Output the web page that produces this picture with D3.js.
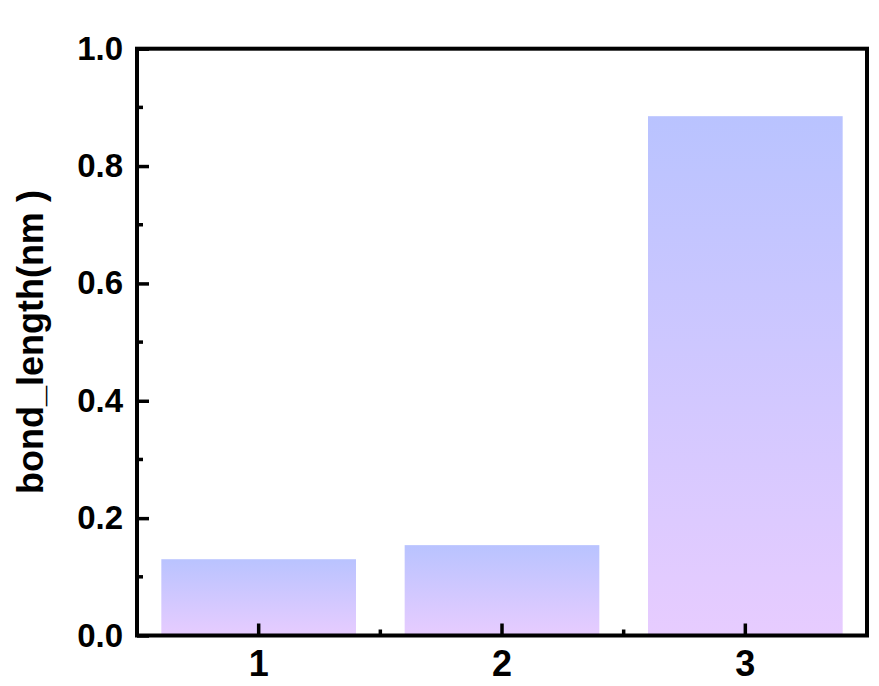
<!DOCTYPE html>
<html><head><meta charset="utf-8">
<script src="https://cdn.jsdelivr.net/npm/d3@7"></script>
<style>body{margin:0;background:#fff}svg{display:block}</style>
</head><body>
<svg id="chart" width="879" height="686"></svg>
<script>
const categories = ["1", "2", "3"];
const bondLength = [0.130, 0.154, 0.885];
const yTicks = [0, 0.2, 0.4, 0.6, 0.8, 1.0];
const yMinorTicks = [0.1, 0.3, 0.5, 0.7, 0.9];
const yLabel = "bond_length(nm )";

(function () {
const svg = d3.select("#chart");
const pLeft = 137, pRight = 867, pTop = 48.7, pBottom = 635.5;
const font = "'Liberation Sans', Arial, sans-serif";

const x = d3.scaleBand().domain(categories).range([pLeft, pRight]).paddingInner(0.2).paddingOuter(0.1);
const y = d3.scaleLinear().domain([0, 1]).range([pBottom, pTop]);

const defs = svg.append("defs");
const grad = defs.append("linearGradient").attr("id", "barGrad")
  .attr("x1", 0).attr("y1", 0).attr("x2", 0).attr("y2", 1);
grad.append("stop").attr("offset", "0%").attr("stop-color", "#b9c3ff");
grad.append("stop").attr("offset", "100%").attr("stop-color", "#e7ccff");

svg.selectAll("rect.bar").data(categories).join("rect").attr("class", "bar")
  .attr("x", d => x(d))
  .attr("width", x.bandwidth())
  .attr("y", (d, i) => y(bondLength[i]))
  .attr("height", (d, i) => y(0) - y(bondLength[i]))
  .attr("fill", "url(#barGrad)");

// Y axis
const yAxis = d3.axisLeft(y).tickValues(yTicks).tickFormat(d3.format(".1f")).tickSize(-12).tickPadding(14);
const gy = svg.append("g").attr("transform", `translate(${pLeft},0)`).call(yAxis);
gy.select(".domain").remove();
gy.selectAll(".tick line").attr("stroke", "#000").attr("stroke-width", 3.5);
gy.selectAll(".tick text").attr("font-family", font).attr("font-weight", "bold").attr("font-size", 33).attr("fill", "#000");

// Y minor ticks
svg.append("g").selectAll("line").data(yMinorTicks).join("line")
  .attr("x1", pLeft).attr("x2", pLeft + 6)
  .attr("y1", d => y(d)).attr("y2", d => y(d))
  .attr("stroke", "#000").attr("stroke-width", 3.5);

// X axis
const xAxis = d3.axisBottom(x).tickSize(-12).tickPadding(15);
const gx = svg.append("g").attr("transform", `translate(0,${pBottom})`).call(xAxis);
gx.select(".domain").remove();
gx.selectAll(".tick line").attr("stroke", "#000").attr("stroke-width", 3.5);
gx.selectAll(".tick text").attr("font-family", font).attr("font-weight", "bold").attr("font-size", 36).attr("fill", "#000");

// X minor ticks between categories
const xMinor = categories.slice(0, -1).map((c, i) => (x(c) + x.bandwidth() / 2 + x(categories[i + 1]) + x.bandwidth() / 2) / 2);
svg.append("g").selectAll("line").data(xMinor).join("line")
  .attr("x1", d => d).attr("x2", d => d)
  .attr("y1", pBottom).attr("y2", pBottom - 6)
  .attr("stroke", "#000").attr("stroke-width", 3.5);

// Frame
svg.append("rect").attr("x", pLeft).attr("y", pTop).attr("width", pRight - pLeft).attr("height", pBottom - pTop)
  .attr("fill", "none").attr("stroke", "#000").attr("stroke-width", 4);

// Y title
svg.append("text")
  .attr("transform", `translate(43,${(pTop + pBottom) / 2}) rotate(-90)`)
  .attr("text-anchor", "middle")
  .attr("font-family", font).attr("font-weight", "bold").attr("font-size", 36).attr("fill", "#000")
  .text(yLabel);
})();
</script>
</body></html>
